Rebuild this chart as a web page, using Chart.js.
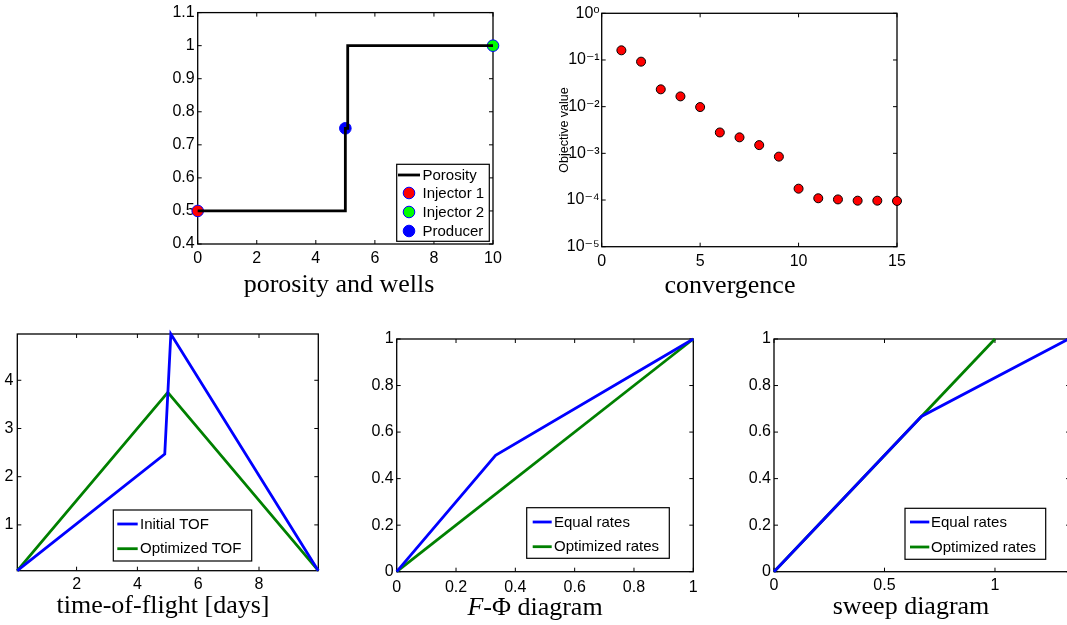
<!DOCTYPE html>
<html><head><meta charset="utf-8">
<script src="https://cdn.jsdelivr.net/npm/chart.js@4/dist/chart.umd.min.js"></script>
<style>
html,body{margin:0;padding:0;background:#fff;overflow:hidden;width:1067px;height:625px;position:relative;}
canvas{position:absolute;left:0;top:0;}
.cap{position:absolute;font-family:'Liberation Serif','Times New Roman',serif;font-size:26px;line-height:26px;white-space:nowrap;color:#000;transform:translateX(-50%);}
</style></head><body>
<canvas id="c1" width="1100" height="625"></canvas>
<canvas id="c2" width="1100" height="625"></canvas>
<canvas id="c3" width="1100" height="625"></canvas>
<canvas id="c4" width="1100" height="625"></canvas>
<canvas id="c5" width="1100" height="625"></canvas>
<div class="cap" style="left:339px;top:271px">porosity and wells</div>
<div class="cap" style="left:730px;top:272px">convergence</div>
<div class="cap" style="left:163px;top:592px">time-of-flight [days]</div>
<div class="cap" style="left:535px;top:594px"><i>F</i>-Φ diagram</div>
<div class="cap" style="left:911px;top:593px">sweep diagram</div>
<script>
// ---------- data ----------
const POROSITY_X = [0, 5, 5, 5.08, 5.08, 10];
const POROSITY_Y = [0.5, 0.5, 0.75, 0.75, 1, 1];
const WELL_NAMES = ['Injector 1', 'Injector 2', 'Producer'];
const WELL_X = [0, 10, 5];
const WELL_Y = [0.5, 1, 0.75];
const P1_X_TICKS = [0, 2, 4, 6, 8, 10];
const P1_X_LABELS = ['0', '2', '4', '6', '8', '10'];
const P1_Y_TICKS = [0.4, 0.5, 0.6, 0.7, 0.8, 0.9, 1, 1.1];
const P1_Y_LABELS = ['0.4', '0.5', '0.6', '0.7', '0.8', '0.9', '1', '1.1'];

const ITER = [1, 2, 3, 4, 5, 6, 7, 8, 9, 10, 11, 12, 13, 14, 15];
const OBJECTIVE = [0.161, 0.092, 0.0235, 0.0166, 0.0098, 0.0028, 0.0022, 0.0015, 0.00085, 0.000175, 0.000109, 0.000103, 0.0000968, 0.0000968, 0.0000955];
const P2_X_TICKS = [0, 5, 10, 15];
const P2_X_LABELS = ['0', '5', '10', '15'];
const P2_Y_TICKS = [1e-5, 1e-4, 1e-3, 1e-2, 1e-1, 1];
const P2_Y_LABELS = ['10\u207B\u2075', '10\u207B\u2074', '10\u207B\u00B3', '10\u207B\u00B2', '10\u207B\u00B9', '10\u2070'];

const TOF_X_INITIAL = [0.05, 4.9, 5.1, 9.95];
const TOF_INITIAL = [0.05, 2.47, 4.96, 0.05];
const TOF_X_OPTIMIZED = [0.05, 5.0, 9.95];
const TOF_OPTIMIZED = [0.05, 3.75, 0.05];
const P3_X_TICKS = [2, 4, 6, 8];
const P3_X_LABELS = ['2', '4', '6', '8'];
const P3_Y_TICKS = [1, 2, 3, 4];
const P3_Y_LABELS = ['1', '2', '3', '4'];

const PHI_EQUAL = [0, 1/3, 1];
const F_EQUAL = [0, 0.5, 1];
const PHI_OPT = [0, 1];
const F_OPT = [0, 1];
const P4_X_TICKS = [0, 0.2, 0.4, 0.6, 0.8, 1];
const P4_X_LABELS = ['0', '0.2', '0.4', '0.6', '0.8', '1'];
const P4_Y_TICKS = [0, 0.2, 0.4, 0.6, 0.8, 1];
const P4_Y_LABELS = ['0', '0.2', '0.4', '0.6', '0.8', '1'];

const TD_EQUAL = [0, 0.667, 1.333];
const EV_EQUAL = [0, 0.667, 1];
const TD_OPT = [0, 1];
const EV_OPT = [0, 1];
const P5_X_TICKS = [0, 0.5, 1];
const P5_X_LABELS = ['0', '0.5', '1'];
const P5_Y_TICKS = [0, 0.2, 0.4, 0.6, 0.8, 1];
const P5_Y_LABELS = ['0', '0.2', '0.4', '0.6', '0.8', '1'];

// ---------- helpers ----------
Chart.defaults.font.family = "'Liberation Sans', Arial, 'DejaVu Sans', sans-serif";
Chart.defaults.color = '#000';
const W = 1100, H = 625, XH = 30;
const BLUE = '#0000ff', GREEN = '#008000';

const pts = (xs, ys) => xs.map((x, i) => ({x: x, y: ys[i]}));

function axis(pos, type, min, max, ticks, labels, pad, size, extra) {
  return Object.assign({
    type: type, position: pos, min: min, max: max,
    grid: {display: false, drawTicks: false}, border: {display: false},
    ticks: {autoSkip: false, maxRotation: 0, minRotation: 0, padding: pad, color: '#000',
      font: {size: size || 16}, callback: (v, i) => labels[i]},
    afterBuildTicks: s => { s.ticks = ticks.map(v => ({value: v})); }
  }, extra || {});
}

const matlab = {
  id: 'matlab',
  beforeDatasetsDraw(chart) {
    const ctx = chart.ctx, a = chart.chartArea;
    ctx.save();
    ctx.strokeStyle = '#000';
    ctx.lineWidth = 1.3;
    ctx.strokeRect(a.left, a.top, a.right - a.left, a.bottom - a.top);
    const tl = 4;
    ctx.beginPath();
    const xs = chart.scales.x, ys = chart.scales.y;
    xs.ticks.forEach(t => {
      const p = xs.getPixelForValue(t.value);
      ctx.moveTo(p, a.bottom); ctx.lineTo(p, a.bottom - tl);
      ctx.moveTo(p, a.top); ctx.lineTo(p, a.top + tl);
    });
    ys.ticks.forEach(t => {
      const p = ys.getPixelForValue(t.value);
      ctx.moveTo(a.left, p); ctx.lineTo(a.left + tl, p);
      ctx.moveTo(a.right, p); ctx.lineTo(a.right - tl, p);
    });
    ctx.lineWidth = 1;
    ctx.stroke();
    ctx.restore();
  },
  afterDatasetsDraw(chart, args, opts) {
    const L = opts.legend;
    if (!L) return;
    const ctx = chart.ctx;
    ctx.save();
    ctx.fillStyle = '#fff';
    ctx.fillRect(L.x0, L.y0, L.x1 - L.x0, L.y1 - L.y0);
    ctx.strokeStyle = '#000';
    ctx.lineWidth = 1.2;
    ctx.strokeRect(L.x0, L.y0, L.x1 - L.x0, L.y1 - L.y0);
    ctx.font = "15px 'Liberation Sans', Arial, sans-serif";
    ctx.textBaseline = 'middle';
    ctx.textAlign = 'left';
    chart.data.datasets.forEach((ds, i) => {
      const y = L.rows[i];
      if (ds.showLine) {
        ctx.beginPath();
        ctx.strokeStyle = ds.borderColor;
        ctx.lineWidth = ds.borderWidth;
        ctx.moveTo(L.lx0, y); ctx.lineTo(L.lx1, y);
        ctx.stroke();
      } else {
        ctx.beginPath();
        ctx.arc((L.lx0 + L.lx1) / 2, y, ds.pointRadius, 0, Math.PI * 2);
        ctx.fillStyle = ds.pointBackgroundColor;
        ctx.fill();
        ctx.lineWidth = ds.pointBorderWidth;
        ctx.strokeStyle = ds.pointBorderColor;
        ctx.stroke();
      }
      ctx.fillStyle = '#000';
      ctx.fillText(ds.label, L.tx, y + 0.5);
    });
    ctx.restore();
  }
};

function make(id, rect, yw, scales, datasets, legend) {
  scales.y.afterFit = s => { s.width = yw; };
  scales.x.afterFit = s => { s.height = XH; };
  return new Chart(document.getElementById(id), {
    type: 'scatter',
    data: {datasets: datasets},
    options: {
      responsive: false, animation: false, events: [],
      layout: {padding: {left: rect.l - yw, top: rect.t, right: W - rect.r, bottom: H - rect.b - XH}},
      scales: scales,
      plugins: {legend: {display: false}, tooltip: {enabled: false}, matlab: {legend: legend}}
    },
    plugins: [matlab]
  });
}

function lineDs(label, xs, ys, color, w) {
  return {label: label, data: pts(xs, ys), showLine: true, borderColor: color, backgroundColor: color,
    borderWidth: w || 2.8, pointRadius: 0, pointHoverRadius: 0, clip: false, tension: 0};
}
function markDs(label, x, y, fill, edge, r) {
  return {label: label, data: [{x: x, y: y}], showLine: false, pointRadius: r, pointStyle: 'circle',
    pointBackgroundColor: fill, pointBorderColor: edge, pointBorderWidth: 1, clip: false};
}

// ---------- panel 1: porosity and wells ----------
const wellColors = ['#ff0000', '#00ff00', '#0000ff'];
make('c1', {l: 197.7, t: 11.7, r: 493, b: 244}, 40, {
  x: axis('bottom', 'linear', 0, 10, P1_X_TICKS, P1_X_LABELS, 5),
  y: axis('left', 'linear', 0.4, 1.1, P1_Y_TICKS, P1_Y_LABELS, 3)
}, [lineDs('Porosity', POROSITY_X, POROSITY_Y, '#000', 2.8)].concat(
  WELL_NAMES.map((n, i) => markDs(n, WELL_X[i], WELL_Y[i], wellColors[i], '#0000ff', 5.8))
), {x0: 396.7, y0: 164.3, x1: 489.3, y1: 241.3, rows: [175, 193, 212, 231], lx0: 398, lx1: 420, tx: 422.5});

// ---------- panel 2: convergence ----------
make('c2', {l: 601.7, t: 13.3, r: 897, b: 246.7}, 44.5, {
  x: axis('bottom', 'linear', 0, 15, P2_X_TICKS, P2_X_LABELS, 5),
  y: axis('left', 'logarithmic', 1e-5, 1, P2_Y_TICKS, P2_Y_LABELS, 2, 16, {
    title: {display: true, text: 'Objective value', font: {size: 12.5}, padding: 0, color: '#000'}
  })
}, [{label: 'Objective', data: pts(ITER, OBJECTIVE), showLine: false, pointRadius: 4.5,
     pointBackgroundColor: '#ff0000', pointBorderColor: '#000', pointBorderWidth: 1, clip: false}], null);

// ---------- panel 3: time-of-flight ----------
make('c3', {l: 17.3, t: 334, r: 318.3, b: 570.7}, 17.3, {
  x: axis('bottom', 'linear', 0.05, 9.95, P3_X_TICKS, P3_X_LABELS, 4),
  y: axis('left', 'linear', 0.05, 4.96, P3_Y_TICKS, P3_Y_LABELS, 4)
}, [lineDs('Initial TOF', TOF_X_INITIAL, TOF_INITIAL, BLUE),
    lineDs('Optimized TOF', TOF_X_OPTIMIZED, TOF_OPTIMIZED, GREEN)],
  {x0: 113.3, y0: 510, x1: 251.7, y1: 561, rows: [524, 548.7], lx0: 117.3, lx1: 137.7, tx: 140});

// ---------- panel 4: F-Phi diagram ----------
make('c4', {l: 396.7, t: 339, r: 693.3, b: 571.7}, 40, {
  x: axis('bottom', 'linear', 0, 1, P4_X_TICKS, P4_X_LABELS, 6),
  y: axis('left', 'linear', 0, 1, P4_Y_TICKS, P4_Y_LABELS, 3)
}, [lineDs('Equal rates', PHI_EQUAL, F_EQUAL, BLUE),
    lineDs('Optimized rates', PHI_OPT, F_OPT, GREEN)],
  {x0: 526.7, y0: 507.7, x1: 669.3, y1: 558.3, rows: [522, 546.7], lx0: 532.7, lx1: 551.7, tx: 554});

// ---------- panel 5: sweep diagram ----------
make('c5', {l: 774, t: 339, r: 1070.1, b: 571.7}, 40, {
  x: axis('bottom', 'linear', 0, 1.34, P5_X_TICKS, P5_X_LABELS, 4),
  y: axis('left', 'linear', 0, 1, P5_Y_TICKS, P5_Y_LABELS, 3)
}, [lineDs('Equal rates', TD_EQUAL, EV_EQUAL, BLUE),
    lineDs('Optimized rates', TD_OPT, EV_OPT, GREEN)],
  {x0: 905, y0: 508.3, x1: 1045.7, y1: 559.3, rows: [522, 547], lx0: 910, lx1: 929.3, tx: 931});
</script>
</body></html>
